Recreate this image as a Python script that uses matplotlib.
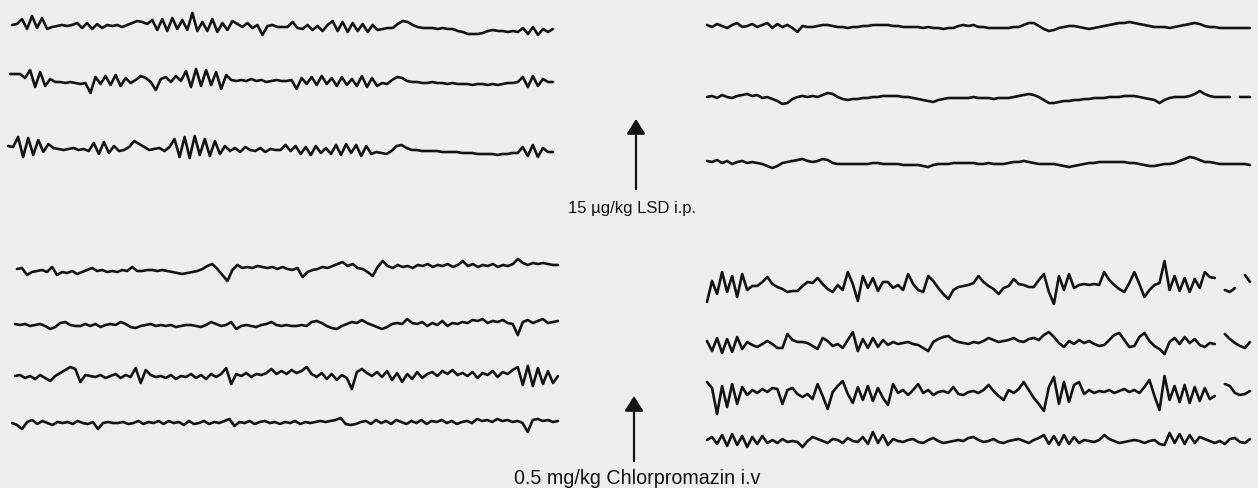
import numpy as np
import matplotlib.pyplot as plt

nan = np.nan

# EEG channels, deflection per sample (upward positive), ~5 px per sample
# 15 ug/kg LSD i.p. -- before
lsd_pre_1 = [1, 2, 7, -3, 10, -2, 8, -3, -1, 0,
             1, 0, 1, 3, -2, 3, -3, 2, -2, 1,
             0, 1, -1, 1, 3, 5, 4, 2, 6, -4,
             7, -5, 8, -3, 6, -4, 13, -5, 4, -5,
             7, -6, 3, -4, 5, 2, -1, 3, -2, 1,
             -9, 0, 1, -1, -1, -1, 4, -2, -3, 1,
             -4, 0, -5, 1, 5, -5, 4, -6, 3, -5,
             2, -6, 1, -4, -3, -2, -2, 2, 5, 4,
             1, -1, -2, -2, -2, -3, -2, -3, -3, -5,
             -6, -8, -8, -8, -7, -5, -4, -5, -5, -6,
             -5, -6, -2, -8, -1, -9, -3, -6, -3]
lsd_pre_2 = [7, 7, 7, 3, 11, -6, 9, -5, 2, -1,
             -1, -2, -1, -2, -3, -2, -12, 4, -3, 5,
             -4, 6, -5, 3, -2, 1, 5, 3, -1, -9,
             2, 4, -1, 5, 0, 10, -6, 12, -5, 11,
             -4, 9, -8, 6, 1, 0, 1, 0, 2, 0,
             1, -1, 0, 1, 0, 0, 1, -8, 3, -3,
             4, -4, 5, -3, 3, -5, 4, -4, 2, -5,
             5, -6, 3, -5, -2, -3, 1, 4, 3, 0,
             -1, -1, -2, -2, -1, -2, -2, -3, -2, -3,
             -3, -3, -4, -3, -3, -4, -3, -4, -3, -2,
             -2, -1, 4, -6, 5, -5, 2, -1, -1]
lsd_pre_3 = [3, 2, 12, -8, 11, -6, 9, -3, 5, 1,
             0, -1, 0, 1, -1, 0, -2, 6, -5, 7,
             -4, 3, -2, -1, 2, 8, 5, 2, -1, 0,
             1, -2, 2, 10, -8, 12, -9, 13, -6, 10,
             -7, 8, -5, 3, -2, 1, -3, 2, -1, -2,
             1, -3, 0, -1, -1, 4, -2, 3, -5, 2,
             -6, 3, -4, 1, -5, 4, -6, 5, -4, 4,
             -7, 3, -5, -3, -4, -5, -2, 3, 4, 1,
             -1, -1, -2, -2, -2, -2, -3, -3, -3, -3,
             -4, -4, -4, -5, -5, -5, -5, -6, -5, -5,
             -4, -4, 2, -7, 4, -8, 1, -3, -3]

# 15 ug/kg LSD i.p. -- after
lsd_post_1 = [1, -1, 2, 0, -2, 1, 3, -1, 0, 2,
              -1, 1, 3, -2, 2, -1, 1, -2, -6, 0,
              -1, -1, 0, 1, 1, 0, -1, -1, -2, -1,
              -1, 0, 0, 1, 1, 1, 1, 0, 0, -1,
              -1, -1, -1, -2, -1, -2, -2, -3, -2, -2,
              0, 1, 0, 1, -1, -1, -2, -2, -2, -2,
              -2, -1, -1, 1, 3, 3, 0, -3, -5, -4,
              -2, -1, 0, 0, -1, -2, -3, -2, -1, 0,
              1, 2, 3, 3, 4, 3, 2, 1, 0, -1,
              -1, -1, -2, -1, 0, 1, 2, 3, 2, 0,
              -1, -1, -2, -2, -2, -2, -2, -2, -2]
lsd_post_2 = [0, 1, -1, 2, 0, -1, 1, 2, 3, 1,
              2, -1, 0, -2, -4, -7, -6, -2, 0, 1,
              0, 1, 0, 2, 4, 3, 0, -2, -3, -2,
              -2, -1, -1, 0, 0, 1, 1, 1, 1, 0,
              0, -1, -2, -3, -4, -5, -3, -2, -1, -1,
              -1, -1, -1, 0, -1, -1, -1, -2, -1, -1,
              -1, 0, 1, 2, 3, 2, 0, -3, -6, -6,
              -5, -4, -4, -3, -3, -2, -2, -1, -1, -1,
              0, 0, 0, 1, 1, 1, 0, -1, -2, -3,
              -6, -3, -1, 0, 0, 0, 1, 3, 6, 3,
              1, 0, 0, 0, 0, nan, 0, 0, 0]
lsd_post_3 = [1, 0, 2, -1, 1, -2, 0, 1, -1, 0,
              -1, -2, -4, -6, -4, -1, 0, 1, 2, 3,
              1, 0, 1, 3, 2, -1, -2, -2, -2, -2,
              -2, -2, -2, -1, -1, -2, -2, -2, -2, -3,
              -3, -3, -3, -4, -5, -3, -2, -2, -2, -1,
              -1, -1, -1, -1, -2, -2, -1, -2, -2, -2,
              -1, 0, 0, 1, 0, -1, -2, -2, -2, -2,
              -3, -4, -5, -4, -3, -2, -1, -1, 0, 0,
              0, 0, 0, 0, -1, -1, -2, -3, -4, -4,
              -3, -2, -2, -1, 1, 3, 5, 4, 2, 0,
              0, -1, -2, -2, -2, -2, -2, -2, -3]

# 0.5 mg/kg Chlorpromazin i.v -- before
cpz_pre_1 = [1, 2, -5, -2, -1, 0, -2, 3, -5, -2,
             -3, -1, -4, -2, 0, 2, -1, 0, -2, -1,
             -2, 0, -1, 3, -1, -1, 0, 0, -1, 0,
             -1, -2, -3, -4, -3, -2, -1, 1, 4, 6,
             1, -5, -11, 0, 5, 2, 3, 2, 4, 3,
             2, 3, 1, 3, 1, 0, 2, -7, -2, 0,
             1, 3, 2, 4, 6, 8, 4, 6, 2, 1,
             -2, -6, 3, 9, 4, 2, 5, 3, 4, 2,
             5, 4, 6, 3, 5, 4, 6, 3, 5, 9,
             4, 6, 3, 5, 4, 6, 3, 5, 4, 6,
             11, 7, 5, 7, 6, 7, 6, 5, 5]
cpz_pre_2 = [1, 0, 1, -1, 0, 1, -1, -4, -2, 2,
             3, 0, -1, -1, 1, -1, 1, -2, 0, 1,
             0, 3, 1, -2, -3, -1, 0, 1, -1, 0,
             -1, 0, -2, -1, 0, 0, -1, -2, 0, 3,
             1, -1, 0, 3, -4, -1, 0, -1, -2, 0,
             1, 3, 0, -1, 0, -1, -1, 0, -1, 3,
             4, 2, -1, -3, -4, -1, 1, 3, 2, 5,
             2, 0, -2, -4, -2, 1, 2, 1, 6, 2,
             1, 3, -1, 2, 0, 4, -1, 2, 1, 3,
             2, 5, 4, 6, 2, 4, 3, 5, 2, 1,
             -10, 3, 5, 2, 4, 6, 2, 3, 4]
cpz_pre_3 = [0, 1, -2, 0, -3, 1, -2, -5, 0, 3,
             6, 9, 7, -6, 1, 0, -1, 1, -2, 0,
             2, -2, 1, -1, 8, -7, 6, 1, -1, 0,
             -2, 1, -3, 0, -1, 2, -2, 1, -3, 2,
             -1, 2, 8, -8, 2, 0, 3, -1, 2, 1,
             3, 7, 2, 5, 2, 6, 3, 5, 9, 2,
             -1, 3, -3, 2, -4, 1, -2, -13, 4, 7,
             3, 0, 4, -1, 5, -4, 3, -6, 2, -3,
             4, -2, 2, 4, 0, 5, 2, 6, 1, 3,
             0, 4, -2, 3, 1, 5, -1, 4, 2, 6,
             9, -9, 10, -10, 8, -8, 5, -7, 0]
cpz_pre_4 = [0, -2, -6, 1, 3, -1, 2, 0, -2, 1,
             0, 1, -1, 2, 0, -1, 1, -6, 0, 1,
             0, 0, 1, -1, 0, 2, -1, 1, 0, 2,
             -1, 2, 0, 1, -2, 2, -1, 0, 2, -1,
             1, 0, 2, 4, -3, 1, 0, 2, -1, 1,
             2, 0, 1, -1, 1, 0, 2, -1, 1, 0,
             1, 2, 1, 2, 3, 5, -1, -2, -1, 1,
             2, -1, 3, 0, 2, -1, 3, 1, -1, 2,
             0, 3, -1, 2, 1, 3, 0, 2, -1, 1,
             2, 0, 4, 2, 3, 1, 4, 2, 3, 1,
             2, 0, -9, 3, 4, 2, 3, 1, 2]

# 0.5 mg/kg Chlorpromazin i.v -- after
cpz_post_1 = [-16, 5, -8, 14, -6, 10, -11, 12, -4, 0,
              0, 4, 9, 2, -1, -3, -6, -5, -5, 0,
              4, 3, 8, 2, -3, -6, 1, -4, 14, 2,
              -15, 10, -2, 8, -5, 4, 4, -2, 1, -4,
              12, 2, -4, -6, 10, 5, -2, -8, -13, -4,
              -1, 0, 1, 3, 10, 4, 0, -3, -8, -2,
              0, 7, 2, 1, -1, -1, 6, 12, -6, -18,
              10, -4, 12, -2, 1, 2, 1, 2, 1, 14,
              6, 1, -3, -6, 3, 14, 2, -11, -4, 1,
              3, 25, -4, 10, -5, 8, -6, 7, -2, 14,
              9, 8, nan, -4, -6, -2, nan, 11, 4]
cpz_post_2 = [2, -8, 5, -10, 4, -9, 6, -6, 1, -2,
              -4, -1, 2, -1, -5, -5, 9, 3, 1, 1,
              0, -3, -6, 5, 2, -3, -1, -5, 3, 11,
              -8, 4, -5, 5, -4, 3, -2, 1, -1, 0,
              1, -1, -2, -5, -8, 1, 4, 6, 7, 3,
              1, 0, -1, 1, 0, 2, 5, 3, 1, 2,
              3, 5, 2, 1, 4, 5, 3, 8, 11, 6,
              0, -4, 2, -1, 3, 0, 2, -1, -3, -2,
              3, 8, 10, 3, -4, -3, 6, 10, 2, -3,
              -6, -11, 1, 5, -1, 6, 0, 4, -2, -4,
              0, -1, nan, 9, 4, 0, -3, -5, 1]
cpz_post_3 = [10, 4, -22, 6, -15, 8, -12, 5, -3, 2,
              -1, 3, 0, 4, 3, -12, 2, 4, -2, -5,
              -2, -7, 8, -4, -17, 0, 6, 11, -2, -11,
              5, -8, 6, -9, 4, -6, -13, 8, -1, 2,
              -3, 2, 8, -1, 2, -3, 0, 1, -1, 5,
              -2, -3, 0, 1, -1, 2, 7, 1, -4, -8,
              2, -1, 3, 10, 2, -6, -12, -19, 5, 15,
              -12, 10, -10, 7, 10, -2, 2, -1, 1, 0,
              2, -1, 1, 3, 0, 2, -1, 5, 12, -4,
              -18, 16, -8, 6, -10, 7, -11, 5, -9, 4,
              -7, -4, nan, 8, 6, -1, -3, -2, 1]
cpz_post_4 = [1, 4, -3, 6, -5, 7, -4, 5, -6, 4,
              -3, 5, -2, 1, -2, 2, -1, 0, -1, -6,
              0, 4, 2, 0, -2, 2, 1, -2, 3, 0,
              -1, 4, -3, 9, -2, 6, -4, 2, 0, -1,
              1, 2, -1, -2, 1, 3, 0, -2, -1, 0,
              1, 0, 3, 4, 1, -1, 0, 2, -1, -2,
              0, 1, 2, 0, -2, 1, 3, 6, -3, 5,
              -4, 6, -3, 4, -2, 1, 0, -1, 1, 6,
              2, 0, -2, -1, 0, 1, 0, -2, 0, 1,
              -3, -4, 8, -2, 7, -3, 6, -2, 4, 2,
              0, -2, 0, -3, 2, 3, -1, -2, 2]

labels = ['15 µg/kg LSD i.p.', '0.5 mg/kg Chlorpromazin i.v']

INK = '#141414'

fig = plt.figure(figsize=(12.58, 4.89), dpi=100)
fig.patch.set_facecolor('#eeeeee')
ax = fig.add_axes([0, 0, 1, 1])
ax.set_xlim(0, 1258)
ax.set_ylim(489, 0)
ax.axis('off')


def trace(vals, x0, x1, base):
    v = np.asarray(vals, dtype=float)
    t = np.linspace(x0, x1, len(v))
    ax.plot(t, base - v, color=INK, lw=1.9, solid_joinstyle='round',
            solid_capstyle='round')


# (channel, x start, x end, baseline) in pixel space
panels = [
    (lsd_pre_1, 12, 553, 27), (lsd_pre_2, 10, 553, 82), (lsd_pre_3, 8, 553, 150),
    (lsd_post_1, 707, 1250, 27), (lsd_post_2, 707, 1250, 98), (lsd_post_3, 707, 1250, 163),
    (cpz_pre_1, 17, 558, 271), (cpz_pre_2, 15, 558, 326),
    (cpz_pre_3, 15, 558, 377), (cpz_pre_4, 12, 558, 424),
    (cpz_post_1, 707, 1250, 287), (cpz_post_2, 707, 1250, 344),
    (cpz_post_3, 707, 1250, 393), (cpz_post_4, 707, 1250, 442),
]
for vals, x0, x1, base in panels:
    trace(vals, x0, x1, base)

# injection markers
arrow = dict(arrowstyle='-|>,head_length=0.35,head_width=0.22', lw=1.6,
             color=INK, mutation_scale=26, shrinkA=0, shrinkB=0)
ax.annotate('', xy=(636, 120), xytext=(636, 190), arrowprops=arrow)
ax.annotate('', xy=(634, 397), xytext=(634, 462), arrowprops=arrow)

ax.text(632, 208, labels[0], ha='center', va='center', fontsize=12,
        family='Liberation Sans', color=INK)
ax.text(637, 478, labels[1], ha='center', va='center', fontsize=14.2,
        family='Liberation Sans', color=INK)

fig.savefig('out.png', dpi=100, facecolor=fig.get_facecolor())
